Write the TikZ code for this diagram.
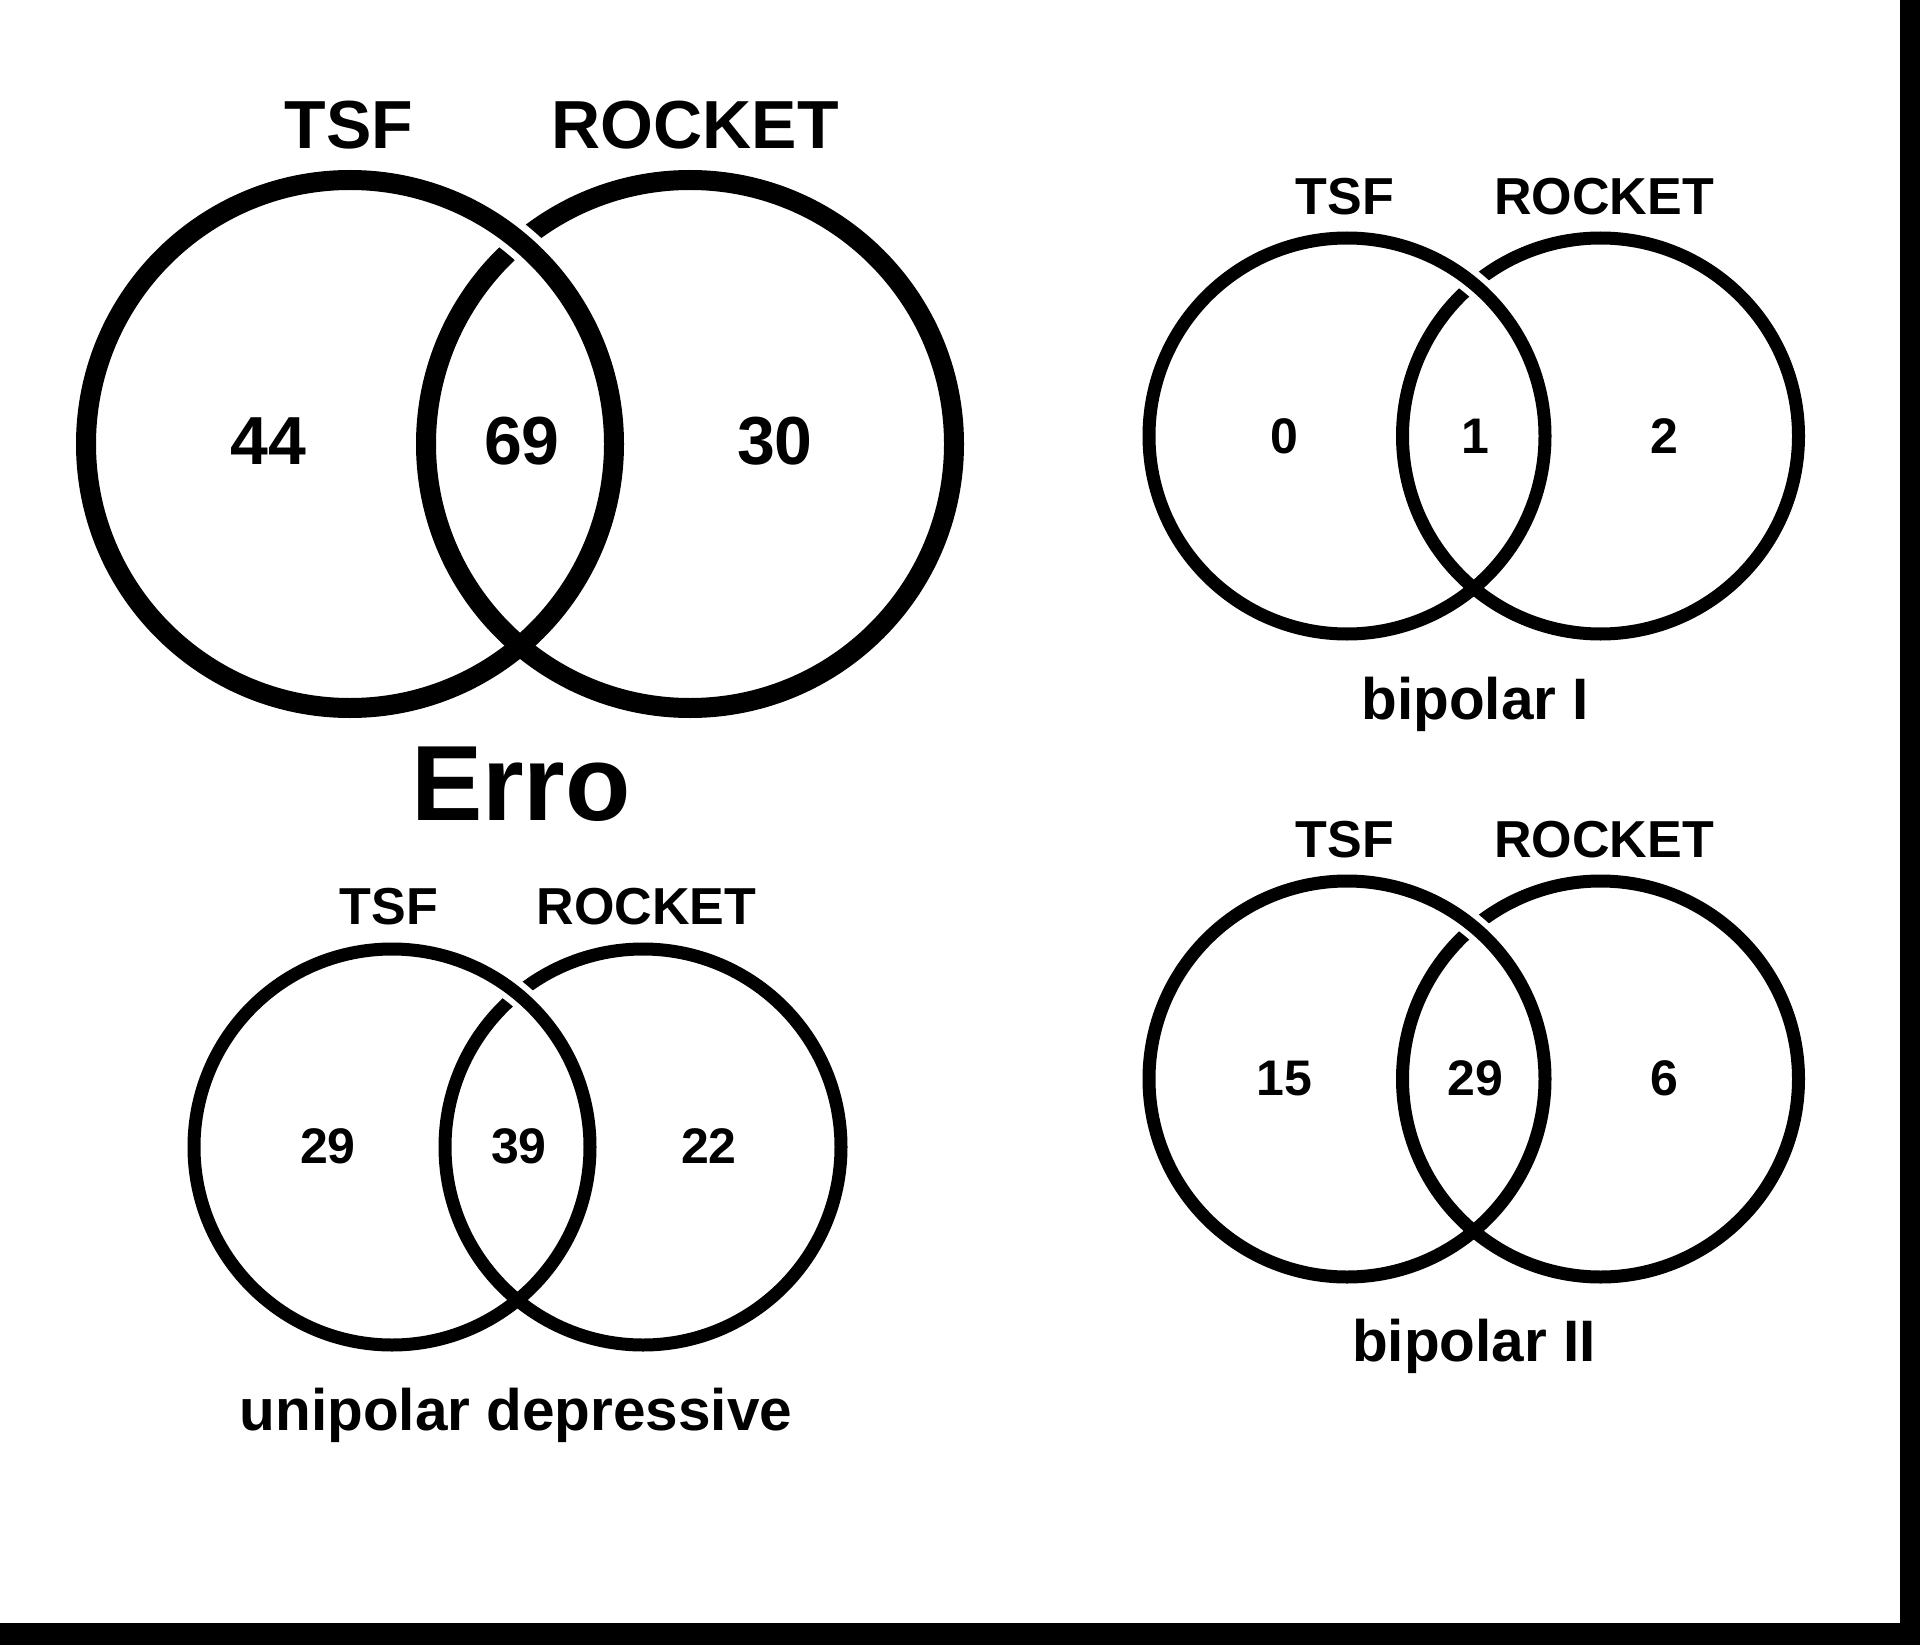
\documentclass[tikz,border=0pt]{standalone}
\usepackage{fontspec}
\setmainfont{Liberation Sans}
\begin{document}
\begin{tikzpicture}[x=1pt,y=1pt,
  vbig/.style={circle, draw=black, line width=20pt, minimum size=528pt, inner sep=0pt, outer sep=0pt},
  vsmall/.style={circle, draw=black, line width=13pt, minimum size=396pt, inner sep=0pt, outer sep=0pt},
  halobig/.style={draw=white, line width=34pt},
  halosmall/.style={draw=white, line width=25pt},
  tbig/.style={anchor=base, inner sep=0pt, font=\bfseries\fontsize{68}{68}\selectfont},
  terro/.style={anchor=base, inner sep=0pt, font=\bfseries\fontsize{107}{107}\selectfont},
  tsmall/.style={anchor=base, inner sep=0pt, font=\bfseries\fontsize{52}{52}\selectfont},
  tnum/.style={anchor=base, inner sep=0pt, font=\bfseries\fontsize{50}{50}\selectfont},
  tcap/.style={anchor=base, inner sep=0pt, font=\bfseries\fontsize{58.5}{58.5}\selectfont},
]
\useasboundingbox (0,0) rectangle (1920,-1645);
\fill[white] (0,0) rectangle (1920,-1645);
\fill[black] (1900,0) rectangle (1920,-1645);
\fill[black] (0,-1623) rectangle (1920,-1645);

% ---- Big Venn: Erro ----
\node[vbig] (bR) at (690,-444) {};
\draw[halobig] (bR.center) ++(-340,0) ++(38:264pt) arc[start angle=38, end angle=62, radius=264pt];
\node[vbig] (bL) at (350,-444) {};
\node[tbig] (bLt) at (349,-149) {TSF};
\node[tbig] (bRt) at (695,-149) {ROCKET};
\node[tbig] (bn1) at (268.5,-464) {44};
\node[tbig] (bn2) at (522,-464) {69};
\node[tbig] (bn3) at (775,-464) {30};
\node[terro] (berro) at (521,-820) {Erro};

% ---- bipolar I ----
\node[vsmall] (aR) at (1600.5,-436) {};
\draw[halosmall] (aR.center) ++(-253.5,0) ++(38:198pt) arc[start angle=38, end angle=62, radius=198pt];
\node[vsmall] (aL) at (1347,-436) {};
\node[tsmall] (aLt) at (1345,-215) {TSF};
\node[tsmall] (aRt) at (1604,-215) {ROCKET};
\node[tnum] (an1) at (1284,-453) {0};
\node[tnum] (an2) at (1475,-453) {1};
\node[tnum] (an3) at (1664,-453) {2};
\node[tcap] (acap) at (1475,-719) {bipolar I};

% ---- bipolar II ----
\node[vsmall] (cR) at (1600.5,-1079) {};
\draw[halosmall] (cR.center) ++(-253.5,0) ++(38:198pt) arc[start angle=38, end angle=62, radius=198pt];
\node[vsmall] (cL) at (1347,-1079) {};
\node[tsmall] (cLt) at (1345,-857) {TSF};
\node[tsmall] (cRt) at (1604,-857) {ROCKET};
\node[tnum] (cn1) at (1284,-1095) {15};
\node[tnum] (cn2) at (1475,-1095) {29};
\node[tnum] (cn3) at (1664,-1095) {6};
\node[tcap] (ccap) at (1474,-1361) {bipolar II};

% ---- unipolar depressive ----
\node[vsmall] (dR) at (643,-1147) {};
\draw[halosmall] (dR.center) ++(-251,0) ++(38:198pt) arc[start angle=38, end angle=62, radius=198pt];
\node[vsmall] (dL) at (392,-1147) {};
\node[tsmall] (dLt) at (389,-924.5) {TSF};
\node[tsmall] (dRt) at (646.5,-924.5) {ROCKET};
\node[tnum] (dn1) at (328,-1163) {29};
\node[tnum] (dn2) at (519,-1163) {39};
\node[tnum] (dn3) at (709,-1163) {22};
\node[tcap] (dcap) at (516,-1430) {unipolar depressive};
\end{tikzpicture}
\end{document}
